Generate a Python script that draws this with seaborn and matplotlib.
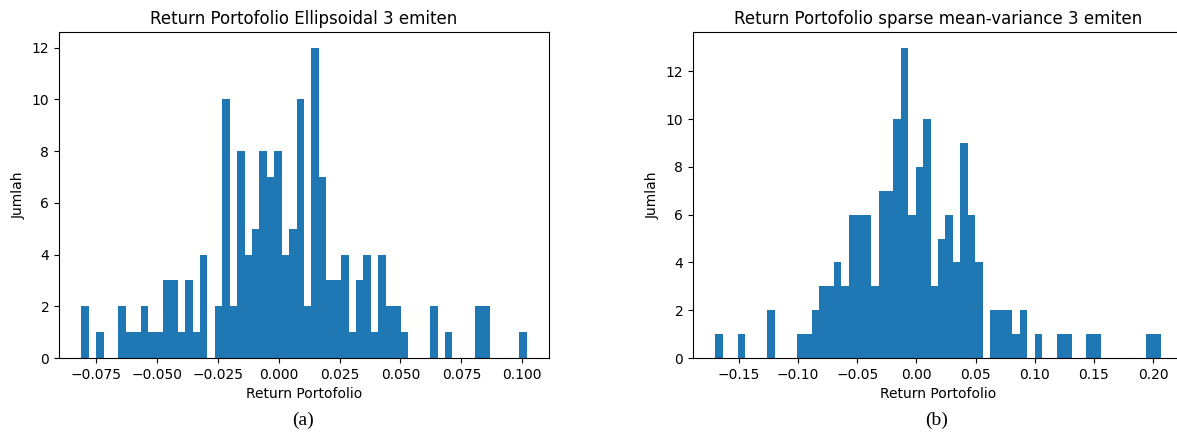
import numpy as np
import pandas as pd
import seaborn as sns
import matplotlib
matplotlib.use("Agg")
import matplotlib.pyplot as plt

# Histogram counts (60 bins each)
ellip_counts = [2, 0, 1, 0, 0, 2, 1, 1, 2, 1, 1, 3, 3, 1, 3, 1, 4, 0, 2, 10,
                2, 8, 4, 5, 8, 7, 8, 4, 5, 10, 2, 12, 7, 3, 3, 4, 1, 3, 4, 1,
                4, 2, 2, 1, 0, 0, 0, 2, 0, 1, 0, 0, 0, 2, 2, 0, 0, 0, 0, 1]
ellip_range = (-0.0810, 0.1018)

sparse_counts = [1, 0, 0, 1, 0, 0, 0, 2, 0, 0, 0, 1, 1, 2, 3, 3, 4, 3, 6, 6,
                 6, 3, 7, 7, 10, 13, 6, 8, 10, 3, 5, 6, 4, 9, 6, 4, 0, 2, 2, 2,
                 1, 2, 0, 1, 0, 0, 1, 1, 0, 0, 1, 1, 0, 0, 0, 0, 0, 0, 1, 1]
sparse_range = (-0.1700, 0.2065)

titles = ["Return Portofolio Ellipsoidal 3 emiten",
          "Return Portofolio sparse mean-variance 3 emiten"]
panel_labels = ["(a)", "(b)"]


def to_frame(counts, rng):
    edges = np.linspace(rng[0], rng[1], len(counts) + 1)
    centers = (edges[:-1] + edges[1:]) / 2
    return pd.DataFrame({"ret": centers, "n": counts})


fig = plt.figure(figsize=(11.77, 4.34), dpi=100)
ax1 = fig.add_axes([59 / 1177, 76 / 434, 490 / 1177, 326 / 434])
ax2 = fig.add_axes([693 / 1177, 76 / 434, 490 / 1177, 326 / 434])

panels = [(ax1, ellip_counts, ellip_range), (ax2, sparse_counts, sparse_range)]
for i, (ax, counts, rng) in enumerate(panels):
    df = to_frame(counts, rng)
    sns.histplot(data=df, x="ret", weights="n", bins=len(counts), binrange=rng,
                 color="#1f77b4", alpha=1, linewidth=0, ax=ax)
    ax.margins(x=0.05, y=0.05)
    ax.set_ylim(0, max(counts) * 1.05)
    ax.set_yticks(range(0, 13, 2))
    ax.set_title(titles[i], fontsize=12)
    ax.set_xlabel("Return Portofolio", fontsize=10)
    ax.set_ylabel("Jumlah", fontsize=10)
    ax.tick_params(labelsize=10)

ax1.set_xticks([-0.075, -0.05, -0.025, 0.0, 0.025, 0.05, 0.075, 0.1])
ax1.set_xticklabels(["\u22120.075", "\u22120.050", "\u22120.025", "0.000",
                     "0.025", "0.050", "0.075", "0.100"])
ax2.set_xticks([-0.15, -0.1, -0.05, 0.0, 0.05, 0.1, 0.15, 0.2])
ax2.set_xticklabels(["\u22120.15", "\u22120.10", "\u22120.05", "0.00",
                     "0.05", "0.10", "0.15", "0.20"])

# panel captions under each chart
fig.text(303 / 1177, 14 / 434, panel_labels[0], ha="center", va="center",
         fontsize=14, family="Liberation Serif")
fig.text(937 / 1177, 14 / 434, panel_labels[1], ha="center", va="center",
         fontsize=14, family="Liberation Serif")

fig.savefig("out.png", dpi=100)
